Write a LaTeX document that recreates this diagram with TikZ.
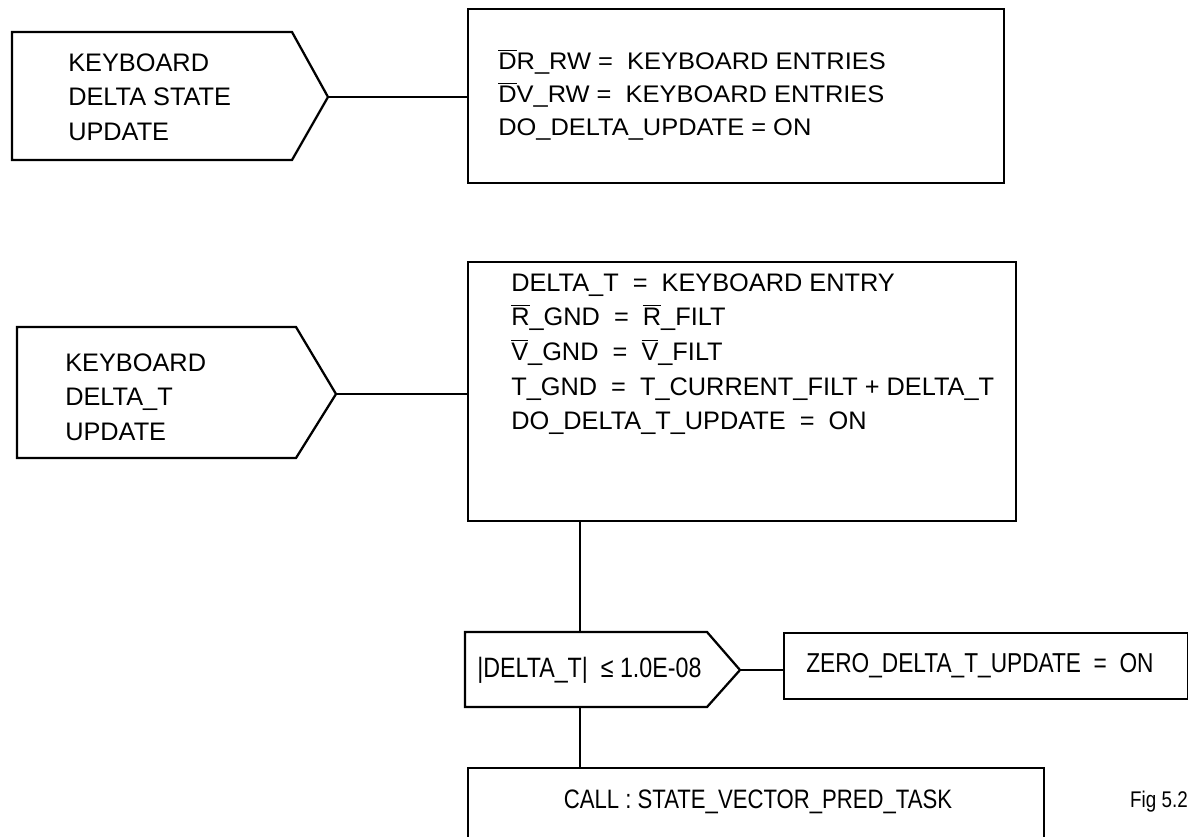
\documentclass[tikz,border=0pt]{standalone}
\usepackage{fontspec}
\setmainfont{Liberation Sans}
\newfontfamily\widefont{Liberation Sans}[FakeStretch=1.06]
\newfontfamily\narrowfont{Liberation Sans}[FakeStretch=0.83]
\newcommand\ovl[1]{\setbox0\hbox{#1}\rlap{\rule[\dimexpr\ht0+1.5pt\relax]{\wd0}{0.9pt}}\box0}
\begin{document}
\begin{tikzpicture}[x=0.75pt,y=-0.75pt,
  shapeline/.style={line width=1.7pt,line join=miter},
  boxnode/.style={draw,line width=1.7pt,rectangle,inner sep=0pt,anchor=north west},
  txt/.style={font=\fontsize{19}{26}\selectfont,align=left,inner sep=0pt,anchor=west},
  conn/.style={line width=1.7pt}]
\useasboundingbox (0,0) rectangle (1188,836);
% Pentagon 1
\draw[shapeline] (12,32) -- (292,32) -- (328,97) -- (292,160) -- (12,160) -- cycle;
\coordinate (p1tip) at (328,97);
\node[txt] (p1txt) at (68,97) {KEYBOARD\\DELTA STATE\\UPDATE};
% Box 1
\node[boxnode,minimum width=536*0.75pt,minimum height=174*0.75pt] (b1) at (467,8) {};
\node[txt,font=\widefont\fontsize{18}{24.5}\selectfont] (b1txt) at (498,95) {\ovl{D}R\_RW =\ \ KEYBOARD ENTRIES\\\ovl{D}V\_RW =\ \ KEYBOARD ENTRIES\\DO\_DELTA\_UPDATE = ON};
\draw[conn] (p1tip) -- (b1.west |- p1tip);
% Pentagon 2
\draw[shapeline] (17,327) -- (296,327) -- (336,394) -- (296,458) -- (17,458) -- cycle;
\coordinate (p2tip) at (336,394);
\node[txt] (p2txt) at (65,397) {KEYBOARD\\DELTA\_T\\UPDATE};
% Box 2
\node[boxnode,minimum width=548*0.75pt,minimum height=259*0.75pt] (b2) at (467,261) {};
\node[txt] (b2txt) at (511,354) {DELTA\_T\ \ =\ \ KEYBOARD ENTRY\\\ovl{R}\_GND\ \ =\ \ \ovl{R}\_FILT\\\ovl{V}\_GND\ \ =\ \ \ovl{V}\_FILT\\T\_GND\ \ =\ \ T\_CURRENT\_FILT + DELTA\_T\\DO\_DELTA\_T\_UPDATE\ \ =\ \ ON};
\draw[conn] (p2tip) -- (b2.west |- p2tip);
% Pentagon 3 (decision)
\draw[shapeline] (465,632) -- (707,632) -- (740,670) -- (707,707) -- (465,707) -- cycle;
\coordinate (p3top) at (580,632);
\coordinate (p3bot) at (580,707);
\coordinate (p3tip) at (740,670);
\node[txt,font=\narrowfont\fontsize{21}{26}\selectfont] (p3txt) at (477,670) {|DELTA\_T|\ \ ≤\ 1.0E-08};
\draw[conn] (b2.south -| p3top) -- (p3top);
% Box 4
\node[boxnode,minimum width=404*0.75pt,minimum height=66*0.75pt] (b4) at (783,632) {};
\node[txt,font=\narrowfont\fontsize{20.5}{26}\selectfont] (b4txt) at (806,666) {ZERO\_DELTA\_T\_UPDATE\ \ =\ \ ON};
\draw[conn] (p3tip) -- (b4.west |- p3tip);
% Box 5
\node[boxnode,minimum width=576*0.75pt,minimum height=75*0.75pt] (b5) at (467,767) {};
\node[txt,anchor=center,font=\narrowfont\fontsize{20}{26}\selectfont] (b5txt) at (758,802) {CALL : STATE\_VECTOR\_PRED\_TASK};
\draw[conn] (p3bot) -- (b5.north -| p3bot);
% Fig label
\node[txt,anchor=east,font=\narrowfont\fontsize{17}{20}\selectfont] (fig) at (1188,802) {Fig 5.2};
\end{tikzpicture}
\end{document}
